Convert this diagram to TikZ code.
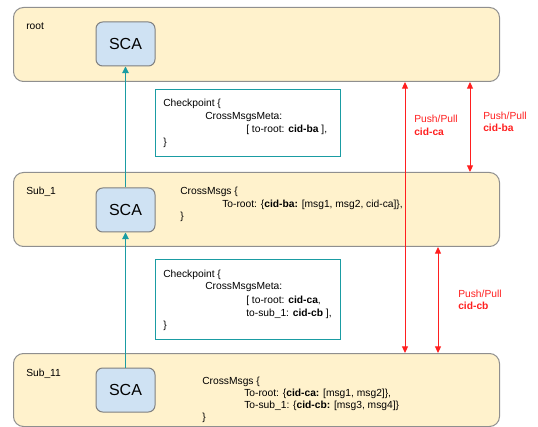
\documentclass[tikz,border=0pt]{standalone}
\usepackage{fontspec}
\setmainfont{Liberation Sans}
\usetikzlibrary{arrows.meta}
\definecolor{layerfill}{HTML}{FFF2CC}
\definecolor{layerdraw}{HTML}{8F8F8F}
\definecolor{scafill}{HTML}{CFE2F3}
\definecolor{scadraw}{HTML}{7F7F7F}
\definecolor{tealc}{HTML}{1A9CA3}
\definecolor{pushred}{HTML}{FF1F1F}
\begin{document}
\begin{tikzpicture}[x=0.75pt,y=-0.75pt,
  layer/.style={draw=layerdraw, fill=layerfill, rounded corners=7.5pt, line width=0.75pt,
    anchor=north west, inner sep=0pt, minimum width=364.5pt},
  scabox/.style={draw=scadraw, fill=scafill, rounded corners=5pt, line width=0.75pt,
    minimum width=44.25pt, minimum height=33pt, inner sep=0pt, font=\fontsize{12}{14}\selectfont},
  cpbox/.style={draw=tealc, fill=white, line width=0.75pt, anchor=north west, inner sep=0pt,
    minimum width=138.75pt},
  txt/.style={anchor=base west, inner sep=0pt, font=\fontsize{7.7}{9}\selectfont},
  redtxt/.style={txt, text=pushred},
  tealarrow/.style={draw=tealc, line width=0.75pt, -{Triangle[width=5pt,length=5pt]}},
  pp/.style={draw=pushred, line width=0.75pt, {Triangle[width=4.5pt,length=5pt]}-{Triangle[width=4.5pt,length=5pt]}}
]
\useasboundingbox (0,0) rectangle (538,427);
% layers
\node[layer, minimum height=55.5pt] (root) at (13,7) {};
\node[layer, minimum height=55.5pt] (sub1) at (13,172) {};
\node[layer, minimum height=54.75pt] (sub11) at (13,353) {};
% SCA boxes
\node[scabox] (sca0) at (125.5,44) {SCA};
\node[scabox] (sca1) at (125.5,210) {SCA};
\node[scabox] (sca2) at (125.5,390) {SCA};
% checkpoint boxes
\node[cpbox, minimum height=50.25pt] (cp1) at (155,89) {};
\node[cpbox, minimum height=60pt] (cp2) at (155,259) {};
% teal arrows
\draw[tealarrow] (sca1.north) -- (sca0.south);
\draw[tealarrow] (sca2.north) -- (sca1.south);
% red push/pull arrows
\draw[pp] (405,0 |- root.south) -- (405,0 |- sub11.north);
\draw[pp] (470,0 |- root.south) -- (470,0 |- sub1.north);
\draw[pp] (438,0 |- sub1.south) -- (438,0 |- sub11.north);
% layer labels
\node[txt] (lroot) at (26,30) {root};
\node[txt] (lsub1) at (26,195) {Sub\_1};
\node[txt] (lsub11) at (26,376) {Sub\_11};
% checkpoint 1
\node[txt] (c1a) at (163,107) {Checkpoint \{};
\node[txt] (c1b) at (205,120) {CrossMsgsMeta:};
\node[txt] (c1c) at (246,133) {[ to-root: \textbf{cid-ba} ],};
\node[txt] (c1d) at (163,146) {\}};
% sub_1 cross msgs
\node[txt] (m1a) at (180,195) {CrossMsgs \{};
\node[txt] (m1b) at (222,208) {To-root: \{\textbf{cid-ba:} [msg1, msg2, cid-ca]\},};
\node[txt] (m1c) at (180,220) {\}};
% checkpoint 2
\node[txt] (c2a) at (163,277) {Checkpoint \{};
\node[txt] (c2b) at (205,290) {CrossMsgsMeta:};
\node[txt] (c2c) at (246,303) {[ to-root: \textbf{cid-ca},};
\node[txt] (c2d) at (246,316) {to-sub\_1: \textbf{cid-cb} ],};
\node[txt] (c2e) at (163,328) {\}};
% sub_11 cross msgs
\node[txt] (m2a) at (202,384) {CrossMsgs \{};
\node[txt] (m2b) at (244,396) {To-root: \{\textbf{cid-ca:} [msg1, msg2]\},};
\node[txt] (m2c) at (244,408) {To-sub\_1: \{\textbf{cid-cb:} [msg3, msg4]\}};
\node[txt] (m2d) at (202,420) {\}};
% red labels
\node[redtxt] (p1a) at (414,123) {Push/Pull};
\node[redtxt] (p1b) at (414,136) {\textbf{cid-ca}};
\node[redtxt] (p2a) at (483,120) {Push/Pull};
\node[redtxt] (p2b) at (483,132) {\textbf{cid-ba}};
\node[redtxt] (p3a) at (458,297) {Push/Pull};
\node[redtxt] (p3b) at (458,309) {\textbf{cid-cb}};
\end{tikzpicture}
\end{document}
